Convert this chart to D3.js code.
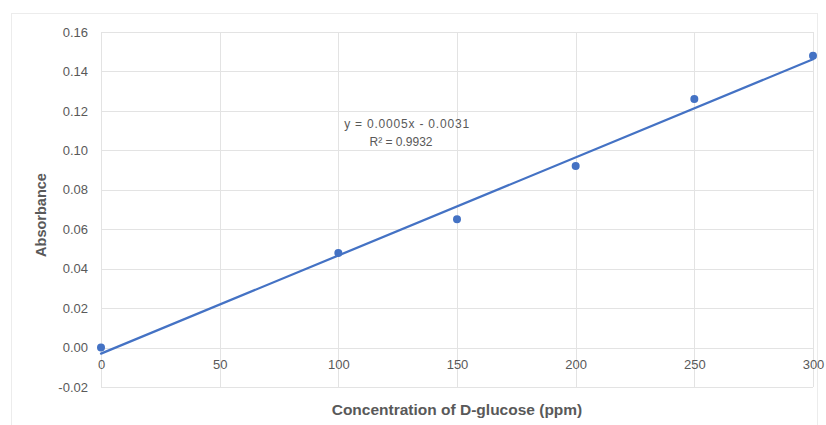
<!DOCTYPE html>
<html>
<head>
<meta charset="utf-8">
<script src="https://cdn.jsdelivr.net/npm/d3@7"></script>
<style>
  html, body { margin: 0; padding: 0; background: #fff; }
  svg { display: block; font-family: "Liberation Sans", Arial, sans-serif; }
</style>
</head>
<body>
<svg id="chart" width="826" height="425"></svg>
<script>
// Calibration standards: D-glucose concentration vs. measured absorbance
const concentration = [0, 100, 150, 200, 250, 300];
const absorbance = [0.000, 0.048, 0.065, 0.092, 0.126, 0.148];

const xTicks = [0, 50, 100, 150, 200, 250, 300];
const yTicks = [-0.02, 0.00, 0.02, 0.04, 0.06, 0.08, 0.10, 0.12, 0.14, 0.16];

const xTitle = "Concentration of D-glucose (ppm)";
const yTitle = "Absorbance";

// Least-squares linear fit of absorbance on concentration
function linearFit(xs, ys) {
  const n = xs.length;
  const mx = d3.mean(xs), my = d3.mean(ys);
  let sxy = 0, sxx = 0, syy = 0;
  for (let i = 0; i < n; i++) {
    sxy += (xs[i] - mx) * (ys[i] - my);
    sxx += (xs[i] - mx) ** 2;
    syy += (ys[i] - my) ** 2;
  }
  const slope = sxy / sxx;
  return { slope, intercept: my - slope * mx, r2: (sxy * sxy) / (sxx * syy) };
}
const fit = linearFit(concentration, absorbance);
const sign = fit.intercept < 0 ? " - " : " + ";
const equationLabel = "y = " + fit.slope.toFixed(4) + "x" + sign + Math.abs(fit.intercept).toFixed(4);
const r2Label = "R\u00B2 = " + fit.r2.toFixed(4);

const svg = d3.select("#chart");
const plot = { left: 101, right: 813, top: 32, bottom: 387 };

const x = d3.scaleLinear().domain([0, 300]).range([plot.left, plot.right]);
const y = d3.scaleLinear().domain([-0.02, 0.16]).range([plot.bottom, plot.top]);

const blue = "#4472c4";
const textGray = "#595959";
const gridGray = "#e3e3e3";
const font = "'Liberation Sans', Arial, sans-serif";

// chart frame
svg.append("rect")
  .attr("x", 11.5).attr("y", 13.5)
  .attr("width", 806).attr("height", 420)
  .attr("fill", "#fff")
  .attr("stroke", "#ececec");

// horizontal gridlines
svg.append("g")
  .selectAll("line")
  .data(yTicks)
  .join("line")
  .attr("x1", plot.left).attr("x2", plot.right)
  .attr("y1", d => Math.round(y(d)) + 0.5)
  .attr("y2", d => Math.round(y(d)) + 0.5)
  .attr("stroke", gridGray);

// vertical gridlines
svg.append("g")
  .selectAll("line")
  .data(xTicks)
  .join("line")
  .attr("y1", plot.top).attr("y2", plot.bottom)
  .attr("x1", d => Math.round(x(d)) + 0.5)
  .attr("x2", d => Math.round(x(d)) + 0.5)
  .attr("stroke", gridGray);

// y axis tick labels (plain hyphen for negatives)
const fmtY = d => d3.format(".2f")(d).replace("\u2212", "-");
const yAxis = d3.axisLeft(y)
  .tickValues(yTicks)
  .tickFormat(fmtY)
  .tickSize(0)
  .tickPadding(13);
const gy = svg.append("g")
  .attr("transform", `translate(${plot.left},0)`)
  .call(yAxis);
gy.select(".domain").remove();
gy.selectAll("text")
  .attr("fill", textGray)
  .style("font-size", "13px")
  .style("font-family", font);

// x axis tick labels sit just under the zero line
const xAxis = d3.axisBottom(x)
  .tickValues(xTicks)
  .tickFormat(d3.format("d"))
  .tickSize(0)
  .tickPadding(12);
const gx = svg.append("g")
  .attr("transform", `translate(0,${y(0)})`)
  .call(xAxis);
gx.select(".domain").remove();
gx.selectAll("text")
  .attr("fill", textGray)
  .style("font-size", "13px")
  .style("font-family", font);

// trendline
svg.append("line")
  .attr("x1", x(0)).attr("y1", y(fit.slope * 0 + fit.intercept))
  .attr("x2", x(300)).attr("y2", y(fit.slope * 300 + fit.intercept))
  .attr("stroke", blue)
  .attr("stroke-width", 2.25)
  .attr("stroke-linecap", "round");

// data points
svg.append("g")
  .selectAll("circle")
  .data(concentration.map((c, i) => ({ c, a: absorbance[i] })))
  .join("circle")
  .attr("cx", d => x(d.c))
  .attr("cy", d => y(d.a))
  .attr("r", 4)
  .attr("fill", blue);

// trendline equation
svg.append("text")
  .attr("x", 407).attr("y", 128)
  .attr("text-anchor", "middle")
  .attr("fill", textGray)
  .style("font-size", "12px")
  .style("letter-spacing", "0.8px")
  .text(equationLabel);
svg.append("text")
  .attr("x", 401).attr("y", 146)
  .attr("text-anchor", "middle")
  .attr("fill", textGray)
  .style("font-size", "12px")
  .text(r2Label);

// axis titles
svg.append("text")
  .attr("x", 457).attr("y", 415)
  .attr("text-anchor", "middle")
  .attr("fill", textGray)
  .style("font-size", "15.5px")
  .style("font-weight", "bold")
  .text(xTitle);

svg.append("text")
  .attr("transform", "translate(46,215) rotate(-90)")
  .attr("text-anchor", "middle")
  .attr("fill", textGray)
  .style("font-size", "14.5px")
  .style("font-weight", "bold")
  .text(yTitle);
</script>
</body>
</html>
